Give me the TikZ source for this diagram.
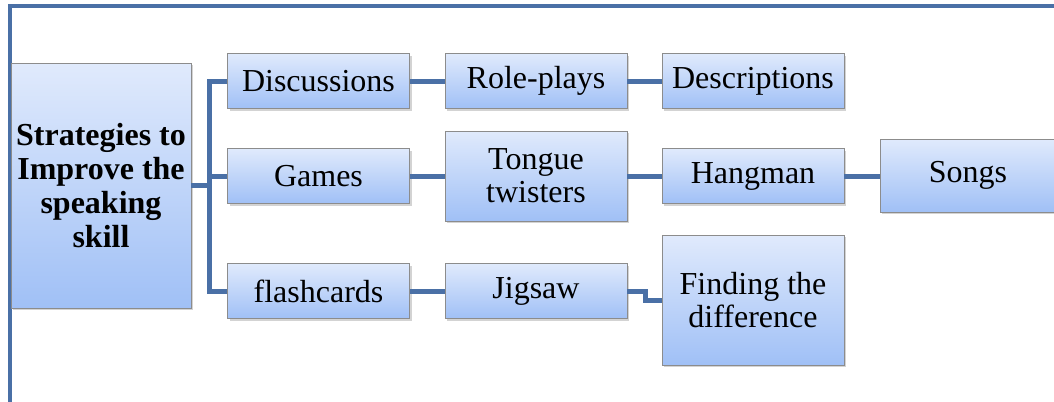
\documentclass[tikz,border=0pt]{standalone}
\usepackage{fontspec}
\setmainfont{Liberation Serif}
\usetikzlibrary{shadows}
\definecolor{linkblue}{RGB}{74,112,166}
\definecolor{boxtop}{RGB}{224,234,252}
\definecolor{boxbot}{RGB}{160,192,246}
\tikzset{
  box/.style={draw=gray!90, line width=0.6pt, top color=boxtop, bottom color=boxbot,
    drop shadow={shadow xshift=1.5pt, shadow yshift=-1.5pt, opacity=0.35},
    align=center, inner sep=0pt, font=\fontsize{24}{25}\selectfont,
    minimum width=136.5pt, minimum height=41.25pt},
  link/.style={draw=linkblue, line width=3.75pt}
}
\begin{document}
\begin{tikzpicture}[x=0.75pt,y=-0.75pt]
  \useasboundingbox (0,0) rectangle (1054,401);
  % frame
  \draw[linkblue, line width=2.5pt] (10,410) -- (10,6) -- (1060,6);
  % root
  \node[box, minimum width=135pt, minimum height=183.75pt, font=\bfseries\fontsize{24}{25.5}\selectfont] (root) at (101,185.5)
    {Strategies to\\Improve the\\speaking\\skill};
  % first column
  \node[box] (disc) at (318.5,81) {Discussions};
  \node[box] (games) at (318.5,176) {Games};
  \node[box] (flash) at (318.5,291) {flashcards};
  % second column
  \node[box] (role) at (536,81) {Role-plays};
  \node[box, minimum height=67.5pt] (tongue) at (536,176) {Tongue\\twisters};
  \node[box] (jig) at (536,291) {Jigsaw};
  % third column
  \node[box] (descr) at (753,81) {Descriptions};
  \node[box] (hang) at (753,176) {Hangman};
  \node[box, minimum height=97.5pt] (find) at (753,300) {Finding the\\difference};
  % fourth column
  \node[box, minimum width=132pt, minimum height=54.75pt] (songs) at (968,175.5) {Songs};
  % links
  \coordinate (trunk) at (209,0);
  \draw[link] (root.east) -- (trunk |- root.east);
  \draw[link] (disc.west) -| (trunk |- flash.west) -- (flash.west);
  \draw[link] (games.west) -- (trunk |- games.west);
  \draw[link] (disc.east) -- (role.west);
  \draw[link] (role.east) -- (descr.west);
  \draw[link] (games.east) -- (tongue.west);
  \draw[link] (tongue.east) -- (hang.west);
  \draw[link] (hang.east) -- (songs.west |- hang.east);
  \draw[link] (flash.east) -- (jig.west);
  \draw[link] (jig.east) -- ++(18,0) |- (find.west);
\end{tikzpicture}
\end{document}
